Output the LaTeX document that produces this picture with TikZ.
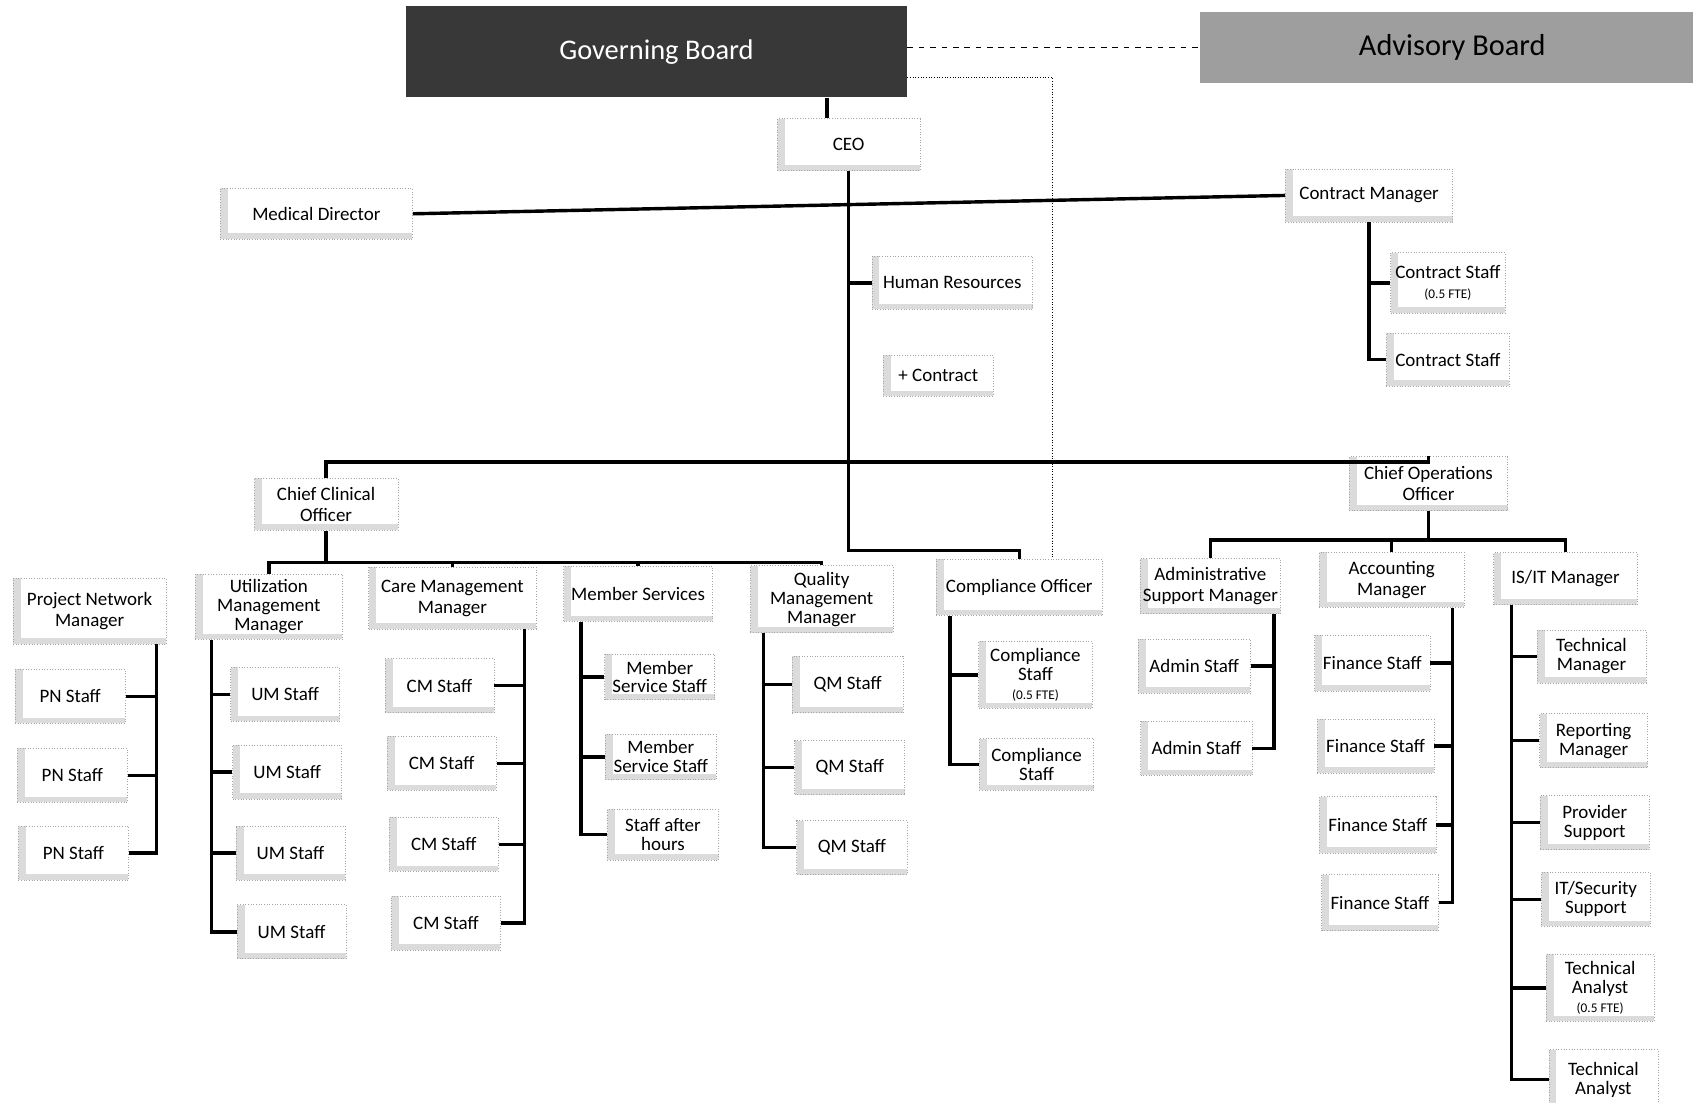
\documentclass[tikz,border=0pt]{standalone}
\usepackage{fontspec}
\setmainfont{Carlito}
\usetikzlibrary{positioning}
\newcommand{\ftenote}{{\fontsize{7}{8}\selectfont(0.5 FTE)}}
\tikzset{
    sz/.style 2 args={minimum width=#1*0.02cm, minimum height=#2*0.02cm},
    stafbox/.style={draw=gray!70, densely dotted, fill=white, align=center, inner sep=1pt,
        font=\fontsize{10}{11}\selectfont,
        path picture={
            \fill[gray!28] (path picture bounding box.south west) rectangle ([xshift=4pt]path picture bounding box.north west);
            \fill[gray!28] (path picture bounding box.south west) rectangle ([yshift=3pt]path picture bounding box.south east);}},
    board/.style={draw=none, align=center, inner sep=2pt},
    conn/.style={line width=1.8pt},
}

\begin{document}
\begin{tikzpicture}[x=0.02cm, y=-0.02cm]
        \useasboundingbox (0,0) rectangle (1568,1021);

        % boards and top level
        \node[board, sz={464}{84}, fill=black!78, text=white, font=\fontsize{15}{18}\selectfont] (gb) at (608,48) {Governing Board};
        \node[board, sz={468}{66}, fill=black!38, font=\fontsize{16}{19}\selectfont] (ab) at (1345,44) {Advisory Board};
        \node[stafbox, sz={132}{48}] (ceo) at (786,134) {CEO};
        \node[stafbox, sz={178}{47}] (md) at (293,198) {Medical Director};
        \node[stafbox, sz={155}{49}] (conm) at (1268,181) {Contract Manager};
        \node[stafbox, sz={149}{49}] (hr) at (882,262) {Human Resources};
        \node[stafbox, sz={102}{38}] (plusc) at (869,348) {+ Contract};
        \node[stafbox, sz={106}{56}] (cons1) at (1341,262) {Contract Staff\\\ftenote};
        \node[stafbox, sz={114}{49}] (cons2) at (1341,333) {Contract Staff};
        \node[stafbox, sz={133}{48}] (cco) at (302,467) {Chief Clinical\\Officer};
        \node[stafbox, sz={147}{50}] (coo) at (1323,448) {Chief Operations\\Officer};

        % clinical side
        \node[stafbox, sz={142}{61}] (pnm) at (83,566) {Project Network\\Manager};
        \node[stafbox, sz={102}{50}] (pn1) at (65,645) {PN Staff};
        \node[stafbox, sz={102}{50}] (pn2) at (67,718) {PN Staff};
        \node[stafbox, sz={102}{50}] (pn3) at (68,790) {PN Staff};

        \node[stafbox, sz={136}{60}, font=\fontsize{10}{10}\selectfont] (umm) at (249,562) {Utilization\\Management\\Manager};
        \node[stafbox, sz={101}{50}] (um1) at (264,643) {UM Staff};
        \node[stafbox, sz={101}{50}] (um2) at (266,715) {UM Staff};
        \node[stafbox, sz={101}{50}] (um3) at (269,790) {UM Staff};
        \node[stafbox, sz={101}{50}] (um4) at (270,863) {UM Staff};

        \node[stafbox, sz={155}{57}] (cmm) at (419,554) {Care Management\\Manager};
        \node[stafbox, sz={101}{50}] (cms1) at (407,635) {CM Staff};
        \node[stafbox, sz={101}{50}] (cms2) at (409,707) {CM Staff};
        \node[stafbox, sz={101}{50}] (cms3) at (411,782) {CM Staff};
        \node[stafbox, sz={101}{50}] (cms4) at (413,855) {CM Staff};

        \node[stafbox, sz={138}{51}] (msv) at (591,550) {Member Services};
        \node[stafbox, sz={102}{42}, font=\fontsize{10}{10}\selectfont] (mss1) at (611,627) {Member\\Service Staff};
        \node[stafbox, sz={103}{42}, font=\fontsize{10}{10}\selectfont] (mss2) at (612,701) {Member\\Service Staff};
        \node[stafbox, sz={103}{47}, font=\fontsize{10}{10}\selectfont] (sah) at (614,773) {Staff after\\hours};

        \node[stafbox, sz={132}{62}, font=\fontsize{10}{10}\selectfont] (qmm) at (761,555) {Quality\\Management\\Manager};
        \node[stafbox, sz={103}{52}] (qms1) at (785,634) {QM Staff};
        \node[stafbox, sz={102}{50}] (qms2) at (787,711) {QM Staff};
        \node[stafbox, sz={102}{50}] (qms3) at (789,785) {QM Staff};

        \node[stafbox, sz={154}{52}] (co) at (944,544) {Compliance Officer};
        \node[stafbox, sz={105}{62}, font=\fontsize{10}{10}\selectfont] (cps1) at (959,625) {Compliance\\Staff\\\ftenote};
        \node[stafbox, sz={106}{48}, font=\fontsize{10}{10}\selectfont] (cps2) at (960,708) {Compliance\\Staff};

        % operations side
        \node[stafbox, sz={130}{51}] (asm) at (1121,543) {Administrative\\Support Manager};
        \node[stafbox, sz={104}{50}] (as1) at (1106,617) {Admin Staff};
        \node[stafbox, sz={103}{50}] (as2) at (1108,693) {Admin Staff};

        \node[stafbox, sz={134}{51}] (acm) at (1289,537) {Accounting\\Manager};
        \node[stafbox, sz={107}{52}] (fs1) at (1271,614) {Finance Staff};
        \node[stafbox, sz={108}{50}] (fs2) at (1274,691) {Finance Staff};
        \node[stafbox, sz={108}{52}] (fs3) at (1276,764) {Finance Staff};
        \node[stafbox, sz={108}{52}] (fs4) at (1278,836) {Finance Staff};

        \node[stafbox, sz={133}{48}] (ism) at (1450,536) {IS/IT Manager};
        \node[stafbox, sz={101}{49}, font=\fontsize{10}{10}\selectfont] (tm) at (1474,608) {Technical\\Manager};
        \node[stafbox, sz={100}{50}, font=\fontsize{10}{10}\selectfont] (rm) at (1476,686) {Reporting\\Manager};
        \node[stafbox, sz={101}{50}, font=\fontsize{10}{10}\selectfont] (ps) at (1477,762) {Provider\\Support};
        \node[stafbox, sz={101}{50}, font=\fontsize{10}{10}\selectfont] (its) at (1478,833) {IT/Security\\Support};
        \node[stafbox, sz={100}{62}, font=\fontsize{10}{10}\selectfont] (ta1) at (1482,915) {Technical\\Analyst\\\ftenote};
        \node[stafbox, sz={101}{56}, font=\fontsize{10}{10}\selectfont] (ta2) at (1485,1000) {Technical\\Analyst};

        % bends and spines
        \coordinate (gbdrop) at (766,0);
        \coordinate (dotbend) at (975,72);
        \coordinate (cobend) at (944,510);
        \coordinate (topbar) at (0,428);
        \coordinate (ccobar) at (0,521);
        \coordinate (coobar) at (0,500);
        \coordinate (pnspine) at (145,0);
        \coordinate (umspine) at (196,0);
        \coordinate (cmsspine) at (486,0);
        \coordinate (msspine) at (538,0);
        \coordinate (qmspine) at (707,0);
        \coordinate (cospine) at (880,0);
        \coordinate (asspine) at (1180,0);
        \coordinate (fsspine) at (1345,0);
        \coordinate (isspine) at (1400,0);

        % board links
        \draw[dashed, thick] (gb.east |- ab.west) -- (ab.west);
        \draw[densely dotted] (gb.east |- dotbend) -- (dotbend) -- (dotbend |- co.north);
        \draw[conn] (gb.south -| gbdrop) -- (ceo.north -| gbdrop);

        % CEO trunk
        \draw[conn] (ceo.south) |- (cobend) -- (co.north);
        \draw[conn] (md.east) -- (conm.west);
        \draw[conn] (hr.west) -- (hr.west -| ceo.south);
        \draw[conn] (cco.north) |- (coo.north |- topbar) -- (coo.north);

        % contract staff
        \draw[conn] (conm.south) |- (cons2.west);
        \draw[conn] (cons1.west) -- (cons1.west -| conm.south);

        % chief clinical officer
        \draw[conn] (cco.south) -- (cco.south |- ccobar);
        \draw[conn] (umm.north) |- (qmm.north |- ccobar) -- (qmm.north);
        \draw[conn] (cmm.north) -- (cmm.north |- ccobar);
        \draw[conn] (msv.north) -- (msv.north |- ccobar);

        % chief operations officer
        \draw[conn] (coo.south) -- (coo.south |- coobar);
        \draw[conn] (asm.north) |- (ism.north |- coobar) -- (ism.north);
        \draw[conn] (acm.north) -- (acm.north |- coobar);

        % staff spines
        \draw[conn] (pnm.south -| pnspine) |- (pn3.east);
        \draw[conn] (pn1.east) -- (pn1.east -| pnspine);
        \draw[conn] (pn2.east) -- (pn2.east -| pnspine);

        \draw[conn] (umm.south -| umspine) |- (um4.west);
        \draw[conn] (um1.west) -- (um1.west -| umspine);
        \draw[conn] (um2.west) -- (um2.west -| umspine);
        \draw[conn] (um3.west) -- (um3.west -| umspine);

        \draw[conn] (cmm.south -| cmsspine) |- (cms4.east);
        \draw[conn] (cms1.east) -- (cms1.east -| cmsspine);
        \draw[conn] (cms2.east) -- (cms2.east -| cmsspine);
        \draw[conn] (cms3.east) -- (cms3.east -| cmsspine);

        \draw[conn] (msv.south -| msspine) |- (sah.west);
        \draw[conn] (mss1.west) -- (mss1.west -| msspine);
        \draw[conn] (mss2.west) -- (mss2.west -| msspine);

        \draw[conn] (qmm.south -| qmspine) |- (qms3.west);
        \draw[conn] (qms1.west) -- (qms1.west -| qmspine);
        \draw[conn] (qms2.west) -- (qms2.west -| qmspine);

        \draw[conn] (co.south -| cospine) |- (cps2.west);
        \draw[conn] (cps1.west) -- (cps1.west -| cospine);

        \draw[conn] (asm.south -| asspine) |- (as2.east);
        \draw[conn] (as1.east) -- (as1.east -| asspine);

        \draw[conn] (acm.south -| fsspine) |- (fs4.east);
        \draw[conn] (fs1.east) -- (fs1.east -| fsspine);
        \draw[conn] (fs2.east) -- (fs2.east -| fsspine);
        \draw[conn] (fs3.east) -- (fs3.east -| fsspine);

        \draw[conn] (ism.south -| isspine) |- (ta2.west);
        \draw[conn] (tm.west) -- (tm.west -| isspine);
        \draw[conn] (rm.west) -- (rm.west -| isspine);
        \draw[conn] (ps.west) -- (ps.west -| isspine);
        \draw[conn] (its.west) -- (its.west -| isspine);
        \draw[conn] (ta1.west) -- (ta1.west -| isspine);
    \end{tikzpicture}
\end{document}
